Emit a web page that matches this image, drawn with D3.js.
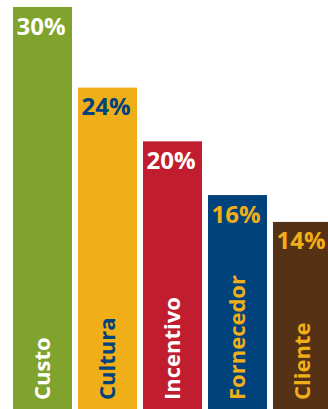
<!DOCTYPE html>
<html>
<head>
<meta charset="utf-8">
<script src="https://cdn.jsdelivr.net/npm/d3@7"></script>
<style>
  html, body { margin: 0; padding: 0; background: #fff; }
  svg { display: block; }
  text { font-family: "Open Sans", sans-serif; font-weight: 700; }
</style>
</head>
<body>
<div id="chart"></div>
<script>
// Share of responses per factor (%)
const categories = ["Custo", "Cultura", "Incentivo", "Fornecedor", "Cliente"];
const values = [30, 24, 20, 16, 14];
const barColors = ["#80a32d", "#f0ae18", "#c01e2f", "#00427b", "#553215"];
const textColors = ["#ffffff", "#00427b", "#ffffff", "#f0ae18", "#f0ae18"];

const width = 328, height = 409;

const svg = d3.select("#chart").append("svg")
  .attr("width", width)
  .attr("height", height);

const x = d3.scaleBand()
  .domain(categories)
  .range([13, 332])
  .paddingInner(0.092)
  .paddingOuter(0)
  .align(0);

const y = d3.scaleLinear()
  .domain([0, 30])
  .range([410, 7]);

const rows = categories.map((c, i) => ({ cat: c, val: values[i], fill: barColors[i], ink: textColors[i] }));

const g = svg.selectAll("g.bar")
  .data(rows)
  .join("g")
  .attr("class", "bar");

g.append("rect")
  .attr("x", d => x(d.cat))
  .attr("y", d => y(d.val))
  .attr("width", x.bandwidth())
  .attr("height", d => y(0) - y(d.val))
  .attr("fill", d => d.fill);

// value label at the top of each bar
g.append("text")
  .attr("x", d => x(d.cat) + 3.5)
  .attr("y", d => y(d.val) + 27.5)
  .attr("font-size", 24)
  .attr("fill", d => d.ink)
  .text(d => d.val + "%");

// category name running upward from the bar base
g.append("text")
  .attr("transform", d => `translate(${x(d.cat) + x.bandwidth() / 2},400) rotate(-90)`)
  .attr("dy", "0.36em")
  .attr("font-size", 22)
  .attr("fill", d => d.ink)
  .text(d => d.cat);
</script>
</body>
</html>
